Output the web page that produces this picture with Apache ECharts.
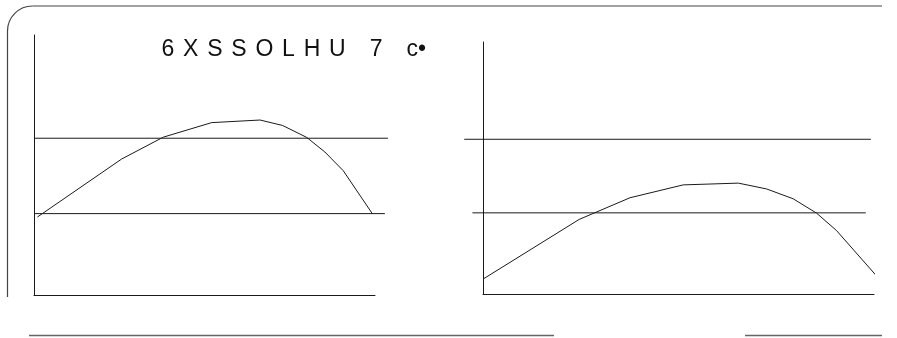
<!DOCTYPE html>
<html>
<head>
<meta charset="utf-8">
<script src="https://cdn.jsdelivr.net/npm/echarts@6/dist/echarts.min.js"></script>
<style>
html, body { margin: 0; padding: 0; background: #fff; }
#chart { width: 897px; height: 338px; }
</style>
</head>
<body>
<div id="chart"></div>
<script>
// title as it appears in the figure
const titleTokens = ['6', 'X', 'S', 'S', 'O', 'L', 'H', 'U', ' ', '7', ' ', 'c•']

// left panel (axes run 0..100 both ways)
const leftX = [1, 25.7, 37.9, 52.1, 66.3, 72.9, 80, 85.3, 90.7, 99.2]
const leftY = [30, 52.3, 60.7, 66.3, 67.3, 65.2, 60.6, 55, 47.8, 31.3]
const leftRefY = [60.3, 31.3]
const leftRefSpan = [[0, 103.8], [0, 102.9]]

// right panel
const rightX = [0, 24.6, 37.6, 51.2, 65.3, 72.5, 79.3, 85.3, 90.4, 100.4]
const rightY = [5.9, 29.6, 38.2, 43.3, 44, 41.7, 37.8, 32.1, 25.2, 7.6]
const rightRefY = [61.4, 32.2]
const rightRefSpan = [[-4.8, 99.2], [-2.7, 97.9]]

const panels = [
  { box: { left: 34, top: 35, width: 341, height: 260 }, x: leftX, y: leftY, refY: leftRefY, refSpan: leftRefSpan },
  { box: { left: 483, top: 42, width: 391, height: 252 }, x: rightX, y: rightY, refY: rightRefY, refSpan: rightRefSpan }
]

// overlay x range, kept small enough that the overlay grid stays inside the canvas
const overMin = -6, overMax = 104

const ink = '#1a1a1a'
const grid = [], xAxis = [], yAxis = [], series = []

panels.forEach((p, i) => {
  const b = p.box
  const pxPerUnit = b.width / 100
  // main grid: the axes frame
  grid.push({ left: b.left, top: b.top, width: b.width, height: b.height, outerBoundsMode: 'none' })
  // wider overlay grid for the reference lines that run past the axes
  grid.push({
    left: b.left + overMin * pxPerUnit, top: b.top,
    width: (overMax - overMin) * pxPerUnit, height: b.height,
    outerBoundsMode: 'none'
  })

  const axisBase = {
    type: 'value',
    axisTick: { show: false },
    axisLabel: { show: false },
    splitLine: { show: false }
  }
  xAxis.push(Object.assign({}, axisBase, {
    gridIndex: 2 * i, min: 0, max: 100,
    axisLine: { show: true, onZero: false, lineStyle: { color: ink, width: 1 } }
  }))
  xAxis.push(Object.assign({}, axisBase, { gridIndex: 2 * i + 1, min: overMin, max: overMax, show: false }))
  yAxis.push(Object.assign({}, axisBase, {
    gridIndex: 2 * i, min: 0, max: 100,
    axisLine: { show: true, onZero: false, lineStyle: { color: ink, width: 1 } }
  }))
  yAxis.push(Object.assign({}, axisBase, { gridIndex: 2 * i + 1, min: 0, max: 100, show: false }))

  series.push({
    type: 'line',
    xAxisIndex: 2 * i,
    yAxisIndex: 2 * i,
    data: p.x.map((v, k) => [v, p.y[k]]),
    symbol: 'none',
    clip: false,
    silent: true,
    lineStyle: { color: ink, width: 1 }
  })
  p.refY.forEach((v, k) => {
    series.push({
      type: 'line',
      xAxisIndex: 2 * i + 1,
      yAxisIndex: 2 * i + 1,
      data: [[p.refSpan[k][0], v], [p.refSpan[k][1], v]],
      symbol: 'none',
      silent: true,
      lineStyle: { color: ink, width: 1 }
    })
  })
})

const titleRich = titleTokens.map(t => '{ch|' + t + '}').join('')

const myChart = echarts.init(document.getElementById('chart'))
myChart.setOption({
  animation: false,
  title: {
    text: titleRich,
    left: 157,
    top: 38,
    padding: 0,
    textStyle: {
      fontFamily: 'Liberation Sans',
      fontSize: 23,
      fontWeight: 'normal',
      color: '#111',
      rich: {
        ch: { fontFamily: 'Liberation Sans', fontSize: 23, color: '#111', padding: [0, 4.4, 0, 4.4] }
      }
    }
  },
  grid: grid,
  xAxis: xAxis,
  yAxis: yAxis,
  series: series,
  graphic: [
    { type: 'line', shape: { x1: 7.5, y1: 297, x2: 7.5, y2: 31 }, style: { stroke: '#444', lineWidth: 1.2 } },
    { type: 'arc', shape: { cx: 32.5, cy: 31, r: 25, startAngle: Math.PI, endAngle: Math.PI * 1.5, clockwise: true }, style: { stroke: '#444', fill: null, lineWidth: 1.2 } },
    { type: 'line', shape: { x1: 32.5, y1: 6, x2: 882, y2: 6 }, style: { stroke: '#444', lineWidth: 1.2 } },
    { type: 'line', shape: { x1: 29, y1: 335.5, x2: 554, y2: 335.5 }, style: { stroke: '#666', lineWidth: 1.5 } },
    { type: 'line', shape: { x1: 745, y1: 335.5, x2: 882, y2: 335.5 }, style: { stroke: '#666', lineWidth: 1.5 } }
  ]
})
</script>
</body>
</html>
